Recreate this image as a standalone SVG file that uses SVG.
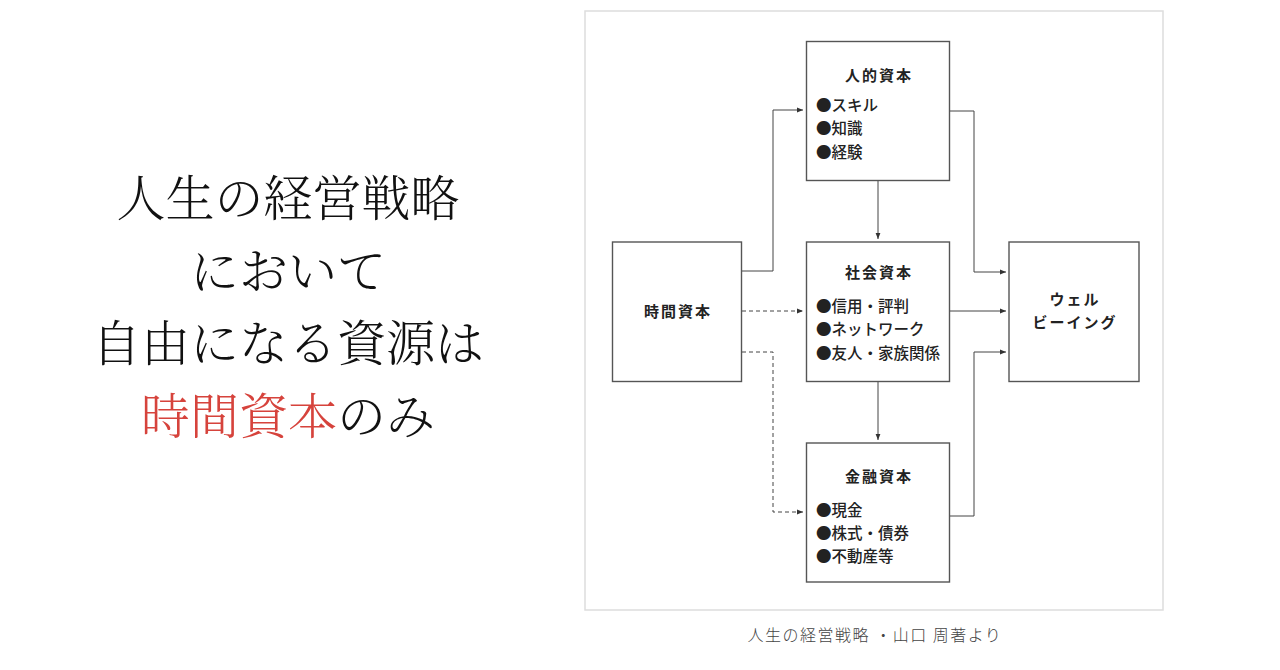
<svg xmlns="http://www.w3.org/2000/svg" width="1280" height="670" viewBox="0 0 1280 670">
<defs>
<marker id="ah" viewBox="0 0 10 10" refX="10" refY="5" markerWidth="6" markerHeight="6" markerUnits="userSpaceOnUse" orient="auto">
<path d="M0,1 L10,5 L0,9 Z" fill="#333"/>
</marker>
<style>
.box{fill:#fff;stroke:#555;stroke-width:1.4}
.frame{fill:#fff;stroke:#ddd;stroke-width:1.5}
.ttl{font-family:"Noto Sans CJK JP",sans-serif;font-size:15px;font-weight:bold;fill:#222;text-anchor:middle;letter-spacing:2px}
.it{font-family:"Noto Sans CJK JP",sans-serif;font-size:15.5px;font-weight:500;fill:#222}
.con{fill:none;stroke:#444;stroke-width:1}
.dash{stroke-dasharray:4 3}
.big{font-family:"Noto Serif CJK JP","Noto Sans CJK JP",serif;font-size:49px;font-weight:300;fill:#111;text-anchor:middle}
.cap{font-family:"Noto Sans CJK JP",sans-serif;font-size:16px;font-weight:300;fill:#444;text-anchor:middle;letter-spacing:1.5px}
</style>
</defs>
<rect width="1280" height="670" fill="#fff"/>
<g id="headline">
<text class="big" x="288" y="216">人生の経営戦略</text>
<text class="big" x="288" y="289">において</text>
<text class="big" x="288" y="361">自由になる資源は</text>
<text class="big" x="288" y="434"><tspan fill="#d6433c">時間資本</tspan>のみ</text>
</g>
<rect id="frame" class="frame" x="585" y="11" width="578" height="599"/>
<g id="connectors">
<polyline class="con" points="742,271 773,271 773,110 803,110" marker-end="url(#ah)"/>
<line class="con dash" x1="742" y1="311" x2="803" y2="311" marker-end="url(#ah)"/>
<polyline class="con dash" points="742,352 773,352 773,512 803,512" marker-end="url(#ah)"/>
<line class="con" x1="878" y1="181" x2="878" y2="239" marker-end="url(#ah)"/>
<line class="con" x1="878" y1="381" x2="878" y2="440" marker-end="url(#ah)"/>
<polyline class="con" points="950,111 974,111 974,272 1006,272" marker-end="url(#ah)"/>
<line class="con" x1="950" y1="311" x2="1006" y2="311" marker-end="url(#ah)"/>
<polyline class="con" points="950,516 974,516 974,352 1006,352" marker-end="url(#ah)"/>
</g>
<g id="time">
<rect class="box" x="612.5" y="242" width="129" height="139.5"/>
<text class="ttl" x="678" y="317">時間資本</text>
</g>
<g id="human">
<rect class="box" x="806.5" y="41.5" width="143" height="139"/>
<text class="ttl" x="879" y="81">人的資本</text>
<text class="it" x="816" y="110.5">●スキル</text>
<text class="it" x="816" y="134">●知識</text>
<text class="it" x="816" y="157.5">●経験</text>
</g>
<g id="social">
<rect class="box" x="806.5" y="242" width="143" height="139.5"/>
<text class="ttl" x="879" y="278">社会資本</text>
<text class="it" x="816" y="311.5">●信用・評判</text>
<text class="it" x="816" y="335">●ネットワーク</text>
<text class="it" x="816" y="358.5">●友人・家族関係</text>
</g>
<g id="financial">
<rect class="box" x="806.5" y="443" width="143" height="139"/>
<text class="ttl" x="879" y="482">金融資本</text>
<text class="it" x="816" y="515.5">●現金</text>
<text class="it" x="816" y="539">●株式・債券</text>
<text class="it" x="816" y="562">●不動産等</text>
</g>
<g id="wellbeing">
<rect class="box" x="1009" y="242" width="130" height="139.5"/>
<text class="ttl" x="1075" y="305" letter-spacing="3">ウェル</text>
<text class="ttl" x="1075" y="328" letter-spacing="2">ビーイング</text>
</g>
<text class="cap" x="875" y="641">人生の経営戦略 ・山口 周著より</text>
</svg>
